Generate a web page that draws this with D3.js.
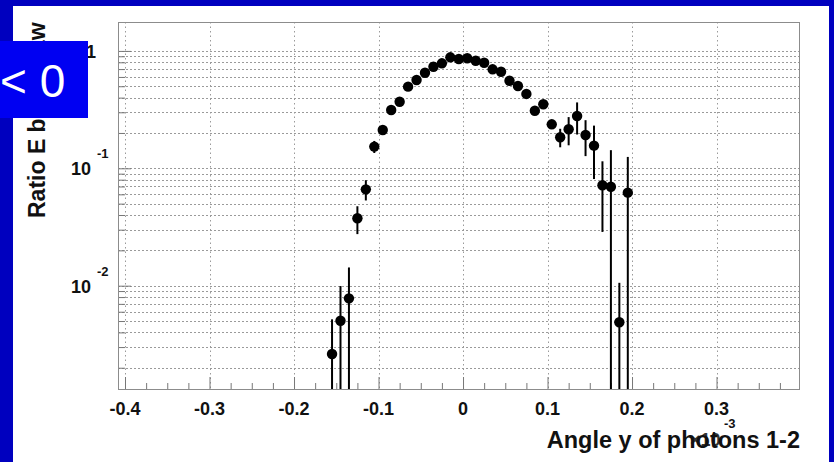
<!DOCTYPE html>
<html>
<head>
<meta charset="utf-8">
<script src="https://cdn.jsdelivr.net/npm/d3@7"></script>
<style>
  html, body { margin: 0; padding: 0; background: #0000bf; }
  svg { display: block; }
  text { font-family: "Liberation Sans", Arial, Helvetica, sans-serif; }
</style>
</head>
<body>
<svg id="chart" width="834" height="462"></svg>
<script>
// Bin centres of the angle histogram (units of 1e-3)
const binCenters = [
  -0.155, -0.145, -0.135, -0.125, -0.115, -0.105, -0.095, -0.085, -0.075, -0.065,
  -0.055, -0.045, -0.035, -0.025, -0.015, -0.005, 0.005, 0.015, 0.025, 0.035,
  0.045, 0.055, 0.065, 0.075, 0.085, 0.095, 0.105, 0.115, 0.125, 0.135,
  0.145, 0.155, 0.165, 0.175, 0.185, 0.195
];
// Energy ratio per bin
const ratio = [
  0.00262, 0.00503, 0.0078, 0.0375, 0.0662, 0.153, 0.212, 0.314, 0.369, 0.496,
  0.565, 0.652, 0.733, 0.784, 0.882, 0.853, 0.865, 0.825, 0.793, 0.697,
  0.665, 0.557, 0.502, 0.430, 0.309, 0.351, 0.237, 0.184, 0.215, 0.279,
  0.192, 0.156, 0.0717, 0.0697, 0.00488, 0.062
];
// Symmetric statistical errors per bin
const ratioErr = [
  0.00255, 0.0049, 0.0065, 0.0100, 0.013, 0.018, 0.016, 0.018, 0.018, 0.02,
  0.02, 0.02, 0.02, 0.02, 0.02, 0.02, 0.02, 0.02, 0.02, 0.02,
  0.022, 0.025, 0.03, 0.03, 0.025, 0.03, 0.02, 0.033, 0.058, 0.085,
  0.065, 0.075, 0.043, 0.073, 0.0057, 0.063
];

const xMajorTicks = [-0.4, -0.3, -0.2, -0.1, 0, 0.1, 0.2, 0.3];
const xTickLabels = ["-0.4", "-0.3", "-0.2", "-0.1", "0", "0.1", "0.2", "0.3"];
const yMajorTicks = [1, 0.1, 0.01];
const yTickBase = ["1", "10", "10"];
const yTickExp = ["", "-1", "-2"];

const xTitle = "Angle y of photons 1-2";
const yTitle = "Ratio E bgo/E raw";
const xExponentBase = "\u00d710";
const xExponent = "-3";
const overlayText = "< 0";

// ---- layout ----
const W = 834, H = 462;
const frame = { left: 118, right: 799, top: 22, bottom: 389 };

const x = d3.scaleLinear().domain([-0.4083, 0.3976]).range([frame.left, frame.right]);
const y = d3.scaleLog().domain([0.001318, 1.763]).range([frame.bottom, frame.top]);

const svg = d3.select("#chart");

// slide background and white pad
svg.append("rect").attr("x", 0).attr("y", 0).attr("width", W).attr("height", H).attr("fill", "#0000bf");
svg.append("rect").attr("x", 13).attr("y", 6).attr("width", 816).attr("height", H - 6).attr("fill", "#ffffff");

// tick sets
const xMinor = d3.range(-17, 17).map(i => +(i * 0.025).toFixed(3))
  .filter(v => v >= x.domain()[0] && v <= x.domain()[1] && !xMajorTicks.some(m => Math.abs(m - v) < 1e-9));
const yAll = [];
for (let k = -3; k <= 0; k++) {
  for (let m = 1; m <= 9; m++) {
    const v = +(m * Math.pow(10, k)).toPrecision(3);
    if (v >= y.domain()[0] && v <= y.domain()[1]) yAll.push(v);
  }
}
const yMinor = yAll.filter(v => !yMajorTicks.some(m => Math.abs(m - v) / m < 1e-6));

// grid
const grid = svg.append("g").attr("stroke", "#9a9a9a").attr("stroke-width", 1).attr("stroke-dasharray", "2,2");
grid.selectAll("line.h").data(yAll).join("line")
  .attr("x1", frame.left).attr("x2", frame.right)
  .attr("y1", d => Math.round(y(d)) + 0.5).attr("y2", d => Math.round(y(d)) + 0.5);
grid.selectAll("line.v").data(xMajorTicks).join("line")
  .attr("y1", frame.top).attr("y2", frame.bottom)
  .attr("x1", d => Math.round(x(d)) + 0.5).attr("x2", d => Math.round(x(d)) + 0.5)
  .attr("stroke-dasharray", "1.5,3");

// axes (ticks point into the frame)
const axX = svg.append("g").attr("transform", `translate(0,${frame.bottom})`);
axX.call(d3.axisBottom(x).tickValues(xMinor).tickSize(-6).tickFormat("").tickSizeOuter(0));
const axXMaj = svg.append("g").attr("transform", `translate(0,${frame.bottom})`);
axXMaj.call(d3.axisBottom(x).tickValues(xMajorTicks).tickSize(-12).tickFormat("").tickSizeOuter(0));
const axY = svg.append("g").attr("transform", `translate(${frame.left},0)`);
axY.call(d3.axisLeft(y).tickValues(yMinor).tickSize(-7).tickFormat("").tickSizeOuter(0));
const axYMaj = svg.append("g").attr("transform", `translate(${frame.left},0)`);
axYMaj.call(d3.axisLeft(y).tickValues(yMajorTicks).tickSize(-13).tickFormat("").tickSizeOuter(0));
svg.selectAll(".domain").remove();
svg.selectAll(".tick line").attr("stroke", "#777").attr("stroke-width", 1);

// frame
svg.append("rect")
  .attr("x", frame.left + 0.5).attr("y", frame.top + 0.5)
  .attr("width", frame.right - frame.left).attr("height", frame.bottom - frame.top)
  .attr("fill", "none").attr("stroke", "#8c8c8c").attr("stroke-width", 1);

// x tick labels
svg.append("g").selectAll("text").data(xMajorTicks).join("text")
  .attr("x", d => x(d)).attr("y", 415)
  .attr("text-anchor", "middle").attr("font-size", 18).attr("font-weight", "bold").attr("fill", "#111")
  .text((d, i) => xTickLabels[i]);

// y tick labels (powers of ten)
const yl = svg.append("g");
yMajorTicks.forEach((v, i) => {
  const py = y(v);
  yl.append("text")
    .attr("x", yTickExp[i] ? 91 : 96).attr("y", py + 7)
    .attr("text-anchor", "end").attr("font-size", 18).attr("font-weight", "bold").attr("fill", "#111")
    .text(yTickBase[i]);
  if (yTickExp[i]) {
    yl.append("text")
      .attr("x", 97).attr("y", py - 10)
      .attr("font-size", 13).attr("font-weight", "bold").attr("fill", "#111")
      .text(yTickExp[i]);
  }
});

// error bars
const yLo = y.domain()[0];
svg.append("g").selectAll("line").data(binCenters).join("line")
  .attr("x1", d => x(d)).attr("x2", d => x(d))
  .attr("y1", (d, i) => y(Math.min(ratio[i] + ratioErr[i], y.domain()[1])))
  .attr("y2", (d, i) => {
    const lo = ratio[i] - ratioErr[i];
    return lo > yLo ? y(lo) : y(yLo);
  })
  .attr("stroke", "#000").attr("stroke-width", 2);

// markers
svg.append("g").selectAll("circle").data(binCenters).join("circle")
  .attr("cx", d => x(d)).attr("cy", (d, i) => y(ratio[i]))
  .attr("r", 5.2).attr("fill", "#000");

// axis titles
svg.append("text")
  .attr("x", frame.right + 1).attr("y", 448)
  .attr("text-anchor", "end").attr("font-size", 23.5).attr("font-weight", "bold").attr("fill", "#111")
  .text(xTitle);
svg.append("text")
  .attr("x", 690).attr("y", 446)
  .attr("font-size", 18).attr("font-weight", "bold").attr("fill", "#111").attr("opacity", 0.85)
  .text(xExponentBase);
svg.append("text")
  .attr("x", 724).attr("y", 428)
  .attr("font-size", 13).attr("font-weight", "bold").attr("fill", "#111")
  .text(xExponent);

svg.append("text")
  .attr("transform", "translate(45,218) rotate(-90)")
  .attr("text-anchor", "start").attr("font-size", 23).attr("font-weight", "bold").attr("fill", "#111")
  .text(yTitle);

// slide overlay box
svg.append("rect").attr("x", 0).attr("y", 41).attr("width", 88).attr("height", 77).attr("fill", "#0000f2");
svg.append("text")
  .attr("x", 0).attr("y", 96.5)
  .attr("font-size", 46).attr("fill", "#ffffff")
  .text(overlayText);
</script>
</body>
</html>
